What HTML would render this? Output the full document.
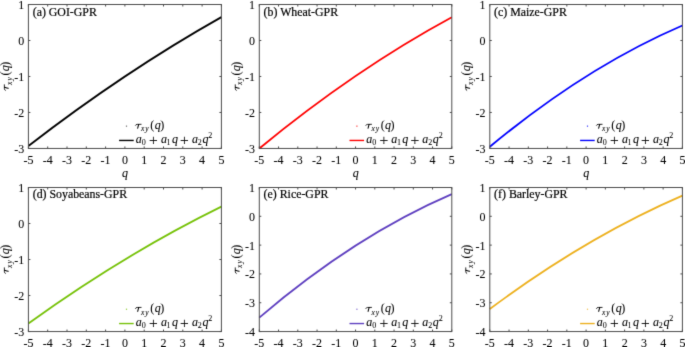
<!DOCTYPE html>
<html><head><meta charset="utf-8"><style>
html,body{margin:0;padding:0;background:#fff;width:685px;height:347px;overflow:hidden}
svg{display:block;will-change:transform}
text{font-family:"Liberation Serif",serif;fill:#000;stroke:#000;stroke-width:0.2px}
.t{font-size:12px;stroke-width:0.05px}
.tt{font-size:11.85px}
.gi{font-style:italic;stroke-width:0.08px}
.gr{stroke-width:0.05px}
</style></head><body>
<svg width="685" height="347" viewBox="0 0 685 347">
<defs><filter id="bl" color-interpolation-filters="sRGB" x="0" y="0" width="685" height="347" filterUnits="userSpaceOnUse"><feConvolveMatrix order="3" kernelMatrix="0.0113 0.0838 0.0113 0.0838 0.6193 0.0838 0.0113 0.0838 0.0113" edgeMode="duplicate"/></filter></defs>
<g filter="url(#bl)"><rect width="685" height="347" fill="#fff"/>
<g><path d="M28.4 145.93 Q124.9 71.44 221.4 17.1" fill="none" stroke="#000000" stroke-width="1.8"/><rect x="28.4" y="4.5" width="193" height="143.95" fill="none" stroke="#4d4d4d" stroke-width="1"/><path d="M28.4 148.45v-2M28.4 4.5v2M47.7 148.45v-2M47.7 4.5v2M67 148.45v-2M67 4.5v2M86.3 148.45v-2M86.3 4.5v2M105.6 148.45v-2M105.6 4.5v2M124.9 148.45v-2M124.9 4.5v2M144.2 148.45v-2M144.2 4.5v2M163.5 148.45v-2M163.5 4.5v2M182.8 148.45v-2M182.8 4.5v2M202.1 148.45v-2M202.1 4.5v2M221.4 148.45v-2M221.4 4.5v2M28.4 148.45h2M221.4 148.45h-2M28.4 112.46h2M221.4 112.46h-2M28.4 76.47h2M221.4 76.47h-2M28.4 40.49h2M221.4 40.49h-2M28.4 4.5h2M221.4 4.5h-2" stroke="#4d4d4d" stroke-width="1" fill="none"/><text transform="translate(28.4 163.95) scale(1 1.08)" text-anchor="middle" class="t">-5</text><text transform="translate(47.7 163.95) scale(1 1.08)" text-anchor="middle" class="t">-4</text><text transform="translate(67 163.95) scale(1 1.08)" text-anchor="middle" class="t">-3</text><text transform="translate(86.3 163.95) scale(1 1.08)" text-anchor="middle" class="t">-2</text><text transform="translate(105.6 163.95) scale(1 1.08)" text-anchor="middle" class="t">-1</text><text transform="translate(124.9 163.95) scale(1 1.08)" text-anchor="middle" class="t">0</text><text transform="translate(144.2 163.95) scale(1 1.08)" text-anchor="middle" class="t">1</text><text transform="translate(163.5 163.95) scale(1 1.08)" text-anchor="middle" class="t">2</text><text transform="translate(182.8 163.95) scale(1 1.08)" text-anchor="middle" class="t">3</text><text transform="translate(202.1 163.95) scale(1 1.08)" text-anchor="middle" class="t">4</text><text transform="translate(221.4 163.95) scale(1 1.08)" text-anchor="middle" class="t">5</text><text transform="translate(24.2 152.95) scale(1 1.08)" text-anchor="end" class="t">-3</text><text transform="translate(24.2 116.96) scale(1 1.08)" text-anchor="end" class="t">-2</text><text transform="translate(24.2 80.97) scale(1 1.08)" text-anchor="end" class="t">-1</text><text transform="translate(24.2 44.99) scale(1 1.08)" text-anchor="end" class="t">0</text><text transform="translate(24.2 9) scale(1 1.08)" text-anchor="end" class="t">1</text><text x="32.7" y="15.7" class="tt">(a) GOI-GPR</text><text class="gi" x="122.1" y="176.65" font-size="12">q</text><g transform="translate(8.8 90.67) rotate(-90)"><path d="M0.1 -3.1C0.5 -3.9 1.0 -4.35 2.0 -4.4L6.3 -4.45" fill="none" stroke="#000" stroke-width="0.85"/><path d="M3.5 -4.3C3.1 -2.9 2.7 -1.5 2.5 -0.5" fill="none" stroke="#000" stroke-width="1.05" stroke-linecap="round"/><text class="gi" x="5.79" y="2.7" font-size="7.5">x</text><text class="gi" x="10.12" y="2.7" font-size="7.5">y</text><text class="gr" x="15.17" y="0" font-size="12">(</text><text class="gi" x="19.5" y="0" font-size="12">q</text><text class="gr" x="25.02" y="0" font-size="12">)</text></g><rect x="125.9" y="125.55" width="1.2" height="1.2" fill="#444444" opacity="0.8"/><g transform="translate(135.2 128.75)"><path d="M0.1 -3.1C0.5 -3.9 1.0 -4.35 2.0 -4.4L6.3 -4.45" fill="none" stroke="#000" stroke-width="0.85"/><path d="M3.5 -4.3C3.1 -2.9 2.7 -1.5 2.5 -0.5" fill="none" stroke="#000" stroke-width="1.05" stroke-linecap="round"/><text class="gi" x="5.79" y="2.7" font-size="7.5">x</text><text class="gi" x="10.12" y="2.7" font-size="7.5">y</text><text class="gr" x="15.17" y="0" font-size="12">(</text><text class="gi" x="19.5" y="0" font-size="12">q</text><text class="gr" x="25.02" y="0" font-size="12">)</text></g><path d="M119.1 140.45H133.7" stroke="#000000" stroke-width="1.4"/><g transform="translate(135.9 143.15)"><text class="gi" x="-0.06" y="0" font-size="12">a</text><text class="gr" x="5.9" y="2.2" font-size="8">0</text><text class="gr" x="13.22" y="1.8" font-size="15.5">+</text><text class="gi" x="25.04" y="0" font-size="12">a</text><text class="gr" x="30.6" y="2.2" font-size="8">1</text><text class="gi" x="36" y="0" font-size="12">q</text><text class="gr" x="44.12" y="1.8" font-size="15.5">+</text><text class="gi" x="56.04" y="0" font-size="12">a</text><text class="gr" x="61.95" y="2.2" font-size="8">2</text><text class="gi" x="66.5" y="0" font-size="12">q</text><text class="gr" x="72.45" y="-5.1" font-size="8">2</text></g></g>
<g><path d="M259.3 148.45 Q355.55 69.35 451.8 17.31" fill="none" stroke="#ff0000" stroke-width="1.8"/><rect x="259.3" y="4.5" width="192.5" height="143.95" fill="none" stroke="#4d4d4d" stroke-width="1"/><path d="M259.3 148.45v-2M259.3 4.5v2M278.55 148.45v-2M278.55 4.5v2M297.8 148.45v-2M297.8 4.5v2M317.05 148.45v-2M317.05 4.5v2M336.3 148.45v-2M336.3 4.5v2M355.55 148.45v-2M355.55 4.5v2M374.8 148.45v-2M374.8 4.5v2M394.05 148.45v-2M394.05 4.5v2M413.3 148.45v-2M413.3 4.5v2M432.55 148.45v-2M432.55 4.5v2M451.8 148.45v-2M451.8 4.5v2M259.3 148.45h2M451.8 148.45h-2M259.3 112.46h2M451.8 112.46h-2M259.3 76.47h2M451.8 76.47h-2M259.3 40.49h2M451.8 40.49h-2M259.3 4.5h2M451.8 4.5h-2" stroke="#4d4d4d" stroke-width="1" fill="none"/><text transform="translate(259.3 163.95) scale(1 1.08)" text-anchor="middle" class="t">-5</text><text transform="translate(278.55 163.95) scale(1 1.08)" text-anchor="middle" class="t">-4</text><text transform="translate(297.8 163.95) scale(1 1.08)" text-anchor="middle" class="t">-3</text><text transform="translate(317.05 163.95) scale(1 1.08)" text-anchor="middle" class="t">-2</text><text transform="translate(336.3 163.95) scale(1 1.08)" text-anchor="middle" class="t">-1</text><text transform="translate(355.55 163.95) scale(1 1.08)" text-anchor="middle" class="t">0</text><text transform="translate(374.8 163.95) scale(1 1.08)" text-anchor="middle" class="t">1</text><text transform="translate(394.05 163.95) scale(1 1.08)" text-anchor="middle" class="t">2</text><text transform="translate(413.3 163.95) scale(1 1.08)" text-anchor="middle" class="t">3</text><text transform="translate(432.55 163.95) scale(1 1.08)" text-anchor="middle" class="t">4</text><text transform="translate(451.8 163.95) scale(1 1.08)" text-anchor="middle" class="t">5</text><text transform="translate(255.1 152.95) scale(1 1.08)" text-anchor="end" class="t">-3</text><text transform="translate(255.1 116.96) scale(1 1.08)" text-anchor="end" class="t">-2</text><text transform="translate(255.1 80.97) scale(1 1.08)" text-anchor="end" class="t">-1</text><text transform="translate(255.1 44.99) scale(1 1.08)" text-anchor="end" class="t">0</text><text transform="translate(255.1 9) scale(1 1.08)" text-anchor="end" class="t">1</text><text x="263.6" y="15.7" class="tt">(b) Wheat-GPR</text><text class="gi" x="352.75" y="176.65" font-size="12">q</text><g transform="translate(239.7 90.67) rotate(-90)"><path d="M0.1 -3.1C0.5 -3.9 1.0 -4.35 2.0 -4.4L6.3 -4.45" fill="none" stroke="#000" stroke-width="0.85"/><path d="M3.5 -4.3C3.1 -2.9 2.7 -1.5 2.5 -0.5" fill="none" stroke="#000" stroke-width="1.05" stroke-linecap="round"/><text class="gi" x="5.79" y="2.7" font-size="7.5">x</text><text class="gi" x="10.12" y="2.7" font-size="7.5">y</text><text class="gr" x="15.17" y="0" font-size="12">(</text><text class="gi" x="19.5" y="0" font-size="12">q</text><text class="gr" x="25.02" y="0" font-size="12">)</text></g><rect x="356.3" y="125.55" width="1.2" height="1.2" fill="#ff0000" opacity="0.8"/><g transform="translate(365.6 128.75)"><path d="M0.1 -3.1C0.5 -3.9 1.0 -4.35 2.0 -4.4L6.3 -4.45" fill="none" stroke="#000" stroke-width="0.85"/><path d="M3.5 -4.3C3.1 -2.9 2.7 -1.5 2.5 -0.5" fill="none" stroke="#000" stroke-width="1.05" stroke-linecap="round"/><text class="gi" x="5.79" y="2.7" font-size="7.5">x</text><text class="gi" x="10.12" y="2.7" font-size="7.5">y</text><text class="gr" x="15.17" y="0" font-size="12">(</text><text class="gi" x="19.5" y="0" font-size="12">q</text><text class="gr" x="25.02" y="0" font-size="12">)</text></g><path d="M349.5 140.45H364.1" stroke="#ff0000" stroke-width="1.4"/><g transform="translate(366.3 143.15)"><text class="gi" x="-0.06" y="0" font-size="12">a</text><text class="gr" x="5.9" y="2.2" font-size="8">0</text><text class="gr" x="13.22" y="1.8" font-size="15.5">+</text><text class="gi" x="25.04" y="0" font-size="12">a</text><text class="gr" x="30.6" y="2.2" font-size="8">1</text><text class="gi" x="36" y="0" font-size="12">q</text><text class="gr" x="44.12" y="1.8" font-size="15.5">+</text><text class="gi" x="56.04" y="0" font-size="12">a</text><text class="gr" x="61.95" y="2.2" font-size="8">2</text><text class="gi" x="66.5" y="0" font-size="12">q</text><text class="gr" x="72.45" y="-5.1" font-size="8">2</text></g></g>
<g><path d="M489.8 146.76 Q586.1 66.83 682.4 25.48" fill="none" stroke="#0000ff" stroke-width="1.8"/><rect x="489.8" y="4.5" width="192.6" height="143.95" fill="none" stroke="#4d4d4d" stroke-width="1"/><path d="M489.8 148.45v-2M489.8 4.5v2M509.06 148.45v-2M509.06 4.5v2M528.32 148.45v-2M528.32 4.5v2M547.58 148.45v-2M547.58 4.5v2M566.84 148.45v-2M566.84 4.5v2M586.1 148.45v-2M586.1 4.5v2M605.36 148.45v-2M605.36 4.5v2M624.62 148.45v-2M624.62 4.5v2M643.88 148.45v-2M643.88 4.5v2M663.14 148.45v-2M663.14 4.5v2M682.4 148.45v-2M682.4 4.5v2M489.8 148.45h2M682.4 148.45h-2M489.8 112.46h2M682.4 112.46h-2M489.8 76.47h2M682.4 76.47h-2M489.8 40.49h2M682.4 40.49h-2M489.8 4.5h2M682.4 4.5h-2" stroke="#4d4d4d" stroke-width="1" fill="none"/><text transform="translate(489.8 163.95) scale(1 1.08)" text-anchor="middle" class="t">-5</text><text transform="translate(509.06 163.95) scale(1 1.08)" text-anchor="middle" class="t">-4</text><text transform="translate(528.32 163.95) scale(1 1.08)" text-anchor="middle" class="t">-3</text><text transform="translate(547.58 163.95) scale(1 1.08)" text-anchor="middle" class="t">-2</text><text transform="translate(566.84 163.95) scale(1 1.08)" text-anchor="middle" class="t">-1</text><text transform="translate(586.1 163.95) scale(1 1.08)" text-anchor="middle" class="t">0</text><text transform="translate(605.36 163.95) scale(1 1.08)" text-anchor="middle" class="t">1</text><text transform="translate(624.62 163.95) scale(1 1.08)" text-anchor="middle" class="t">2</text><text transform="translate(643.88 163.95) scale(1 1.08)" text-anchor="middle" class="t">3</text><text transform="translate(663.14 163.95) scale(1 1.08)" text-anchor="middle" class="t">4</text><text transform="translate(682.4 163.95) scale(1 1.08)" text-anchor="middle" class="t">5</text><text transform="translate(485.6 152.95) scale(1 1.08)" text-anchor="end" class="t">-3</text><text transform="translate(485.6 116.96) scale(1 1.08)" text-anchor="end" class="t">-2</text><text transform="translate(485.6 80.97) scale(1 1.08)" text-anchor="end" class="t">-1</text><text transform="translate(485.6 44.99) scale(1 1.08)" text-anchor="end" class="t">0</text><text transform="translate(485.6 9) scale(1 1.08)" text-anchor="end" class="t">1</text><text x="494.1" y="15.7" class="tt">(c) Maize-GPR</text><text class="gi" x="583.3" y="176.65" font-size="12">q</text><g transform="translate(470.2 90.67) rotate(-90)"><path d="M0.1 -3.1C0.5 -3.9 1.0 -4.35 2.0 -4.4L6.3 -4.45" fill="none" stroke="#000" stroke-width="0.85"/><path d="M3.5 -4.3C3.1 -2.9 2.7 -1.5 2.5 -0.5" fill="none" stroke="#000" stroke-width="1.05" stroke-linecap="round"/><text class="gi" x="5.79" y="2.7" font-size="7.5">x</text><text class="gi" x="10.12" y="2.7" font-size="7.5">y</text><text class="gr" x="15.17" y="0" font-size="12">(</text><text class="gi" x="19.5" y="0" font-size="12">q</text><text class="gr" x="25.02" y="0" font-size="12">)</text></g><rect x="586.9" y="125.55" width="1.2" height="1.2" fill="#0000ff" opacity="0.8"/><g transform="translate(596.2 128.75)"><path d="M0.1 -3.1C0.5 -3.9 1.0 -4.35 2.0 -4.4L6.3 -4.45" fill="none" stroke="#000" stroke-width="0.85"/><path d="M3.5 -4.3C3.1 -2.9 2.7 -1.5 2.5 -0.5" fill="none" stroke="#000" stroke-width="1.05" stroke-linecap="round"/><text class="gi" x="5.79" y="2.7" font-size="7.5">x</text><text class="gi" x="10.12" y="2.7" font-size="7.5">y</text><text class="gr" x="15.17" y="0" font-size="12">(</text><text class="gi" x="19.5" y="0" font-size="12">q</text><text class="gr" x="25.02" y="0" font-size="12">)</text></g><path d="M580.1 140.45H594.7" stroke="#0000ff" stroke-width="1.4"/><g transform="translate(596.9 143.15)"><text class="gi" x="-0.06" y="0" font-size="12">a</text><text class="gr" x="5.9" y="2.2" font-size="8">0</text><text class="gr" x="13.22" y="1.8" font-size="15.5">+</text><text class="gi" x="25.04" y="0" font-size="12">a</text><text class="gr" x="30.6" y="2.2" font-size="8">1</text><text class="gi" x="36" y="0" font-size="12">q</text><text class="gr" x="44.12" y="1.8" font-size="15.5">+</text><text class="gi" x="56.04" y="0" font-size="12">a</text><text class="gr" x="61.95" y="2.2" font-size="8">2</text><text class="gi" x="66.5" y="0" font-size="12">q</text><text class="gr" x="72.45" y="-5.1" font-size="8">2</text></g></g>
<g><path d="M28.4 323.45 Q124.9 254 221.4 206.66" fill="none" stroke="#77c20a" stroke-width="1.8"/><rect x="28.4" y="187.5" width="193" height="144.05" fill="none" stroke="#4d4d4d" stroke-width="1"/><path d="M28.4 331.55v-2M28.4 187.5v2M47.7 331.55v-2M47.7 187.5v2M67 331.55v-2M67 187.5v2M86.3 331.55v-2M86.3 187.5v2M105.6 331.55v-2M105.6 187.5v2M124.9 331.55v-2M124.9 187.5v2M144.2 331.55v-2M144.2 187.5v2M163.5 331.55v-2M163.5 187.5v2M182.8 331.55v-2M182.8 187.5v2M202.1 331.55v-2M202.1 187.5v2M221.4 331.55v-2M221.4 187.5v2M28.4 331.55h2M221.4 331.55h-2M28.4 295.54h2M221.4 295.54h-2M28.4 259.52h2M221.4 259.52h-2M28.4 223.51h2M221.4 223.51h-2M28.4 187.5h2M221.4 187.5h-2" stroke="#4d4d4d" stroke-width="1" fill="none"/><text transform="translate(28.4 347.05) scale(1 1.08)" text-anchor="middle" class="t">-5</text><text transform="translate(47.7 347.05) scale(1 1.08)" text-anchor="middle" class="t">-4</text><text transform="translate(67 347.05) scale(1 1.08)" text-anchor="middle" class="t">-3</text><text transform="translate(86.3 347.05) scale(1 1.08)" text-anchor="middle" class="t">-2</text><text transform="translate(105.6 347.05) scale(1 1.08)" text-anchor="middle" class="t">-1</text><text transform="translate(124.9 347.05) scale(1 1.08)" text-anchor="middle" class="t">0</text><text transform="translate(144.2 347.05) scale(1 1.08)" text-anchor="middle" class="t">1</text><text transform="translate(163.5 347.05) scale(1 1.08)" text-anchor="middle" class="t">2</text><text transform="translate(182.8 347.05) scale(1 1.08)" text-anchor="middle" class="t">3</text><text transform="translate(202.1 347.05) scale(1 1.08)" text-anchor="middle" class="t">4</text><text transform="translate(221.4 347.05) scale(1 1.08)" text-anchor="middle" class="t">5</text><text transform="translate(24.2 336.05) scale(1 1.08)" text-anchor="end" class="t">-3</text><text transform="translate(24.2 300.04) scale(1 1.08)" text-anchor="end" class="t">-2</text><text transform="translate(24.2 264.02) scale(1 1.08)" text-anchor="end" class="t">-1</text><text transform="translate(24.2 228.01) scale(1 1.08)" text-anchor="end" class="t">0</text><text transform="translate(24.2 192) scale(1 1.08)" text-anchor="end" class="t">1</text><text x="32.7" y="198.2" class="tt">(d) Soyabeans-GPR</text><g transform="translate(8.8 273.72) rotate(-90)"><path d="M0.1 -3.1C0.5 -3.9 1.0 -4.35 2.0 -4.4L6.3 -4.45" fill="none" stroke="#000" stroke-width="0.85"/><path d="M3.5 -4.3C3.1 -2.9 2.7 -1.5 2.5 -0.5" fill="none" stroke="#000" stroke-width="1.05" stroke-linecap="round"/><text class="gi" x="5.79" y="2.7" font-size="7.5">x</text><text class="gi" x="10.12" y="2.7" font-size="7.5">y</text><text class="gr" x="15.17" y="0" font-size="12">(</text><text class="gi" x="19.5" y="0" font-size="12">q</text><text class="gr" x="25.02" y="0" font-size="12">)</text></g><rect x="125.9" y="308.65" width="1.2" height="1.2" fill="#77c20a" opacity="0.8"/><g transform="translate(135.2 311.85)"><path d="M0.1 -3.1C0.5 -3.9 1.0 -4.35 2.0 -4.4L6.3 -4.45" fill="none" stroke="#000" stroke-width="0.85"/><path d="M3.5 -4.3C3.1 -2.9 2.7 -1.5 2.5 -0.5" fill="none" stroke="#000" stroke-width="1.05" stroke-linecap="round"/><text class="gi" x="5.79" y="2.7" font-size="7.5">x</text><text class="gi" x="10.12" y="2.7" font-size="7.5">y</text><text class="gr" x="15.17" y="0" font-size="12">(</text><text class="gi" x="19.5" y="0" font-size="12">q</text><text class="gr" x="25.02" y="0" font-size="12">)</text></g><path d="M119.1 323.55H133.7" stroke="#77c20a" stroke-width="1.4"/><g transform="translate(135.9 326.25)"><text class="gi" x="-0.06" y="0" font-size="12">a</text><text class="gr" x="5.9" y="2.2" font-size="8">0</text><text class="gr" x="13.22" y="1.8" font-size="15.5">+</text><text class="gi" x="25.04" y="0" font-size="12">a</text><text class="gr" x="30.6" y="2.2" font-size="8">1</text><text class="gi" x="36" y="0" font-size="12">q</text><text class="gr" x="44.12" y="1.8" font-size="15.5">+</text><text class="gi" x="56.04" y="0" font-size="12">a</text><text class="gr" x="61.95" y="2.2" font-size="8">2</text><text class="gi" x="66.5" y="0" font-size="12">q</text><text class="gr" x="72.45" y="-5.1" font-size="8">2</text></g></g>
<g><path d="M259.3 317.58 Q355.55 235.51 451.8 194.18" fill="none" stroke="#5f40c0" stroke-width="1.8"/><rect x="259.3" y="187.5" width="192.5" height="144.05" fill="none" stroke="#4d4d4d" stroke-width="1"/><path d="M259.3 331.55v-2M259.3 187.5v2M278.55 331.55v-2M278.55 187.5v2M297.8 331.55v-2M297.8 187.5v2M317.05 331.55v-2M317.05 187.5v2M336.3 331.55v-2M336.3 187.5v2M355.55 331.55v-2M355.55 187.5v2M374.8 331.55v-2M374.8 187.5v2M394.05 331.55v-2M394.05 187.5v2M413.3 331.55v-2M413.3 187.5v2M432.55 331.55v-2M432.55 187.5v2M451.8 331.55v-2M451.8 187.5v2M259.3 331.55h2M451.8 331.55h-2M259.3 302.74h2M451.8 302.74h-2M259.3 273.93h2M451.8 273.93h-2M259.3 245.12h2M451.8 245.12h-2M259.3 216.31h2M451.8 216.31h-2M259.3 187.5h2M451.8 187.5h-2" stroke="#4d4d4d" stroke-width="1" fill="none"/><text transform="translate(259.3 347.05) scale(1 1.08)" text-anchor="middle" class="t">-5</text><text transform="translate(278.55 347.05) scale(1 1.08)" text-anchor="middle" class="t">-4</text><text transform="translate(297.8 347.05) scale(1 1.08)" text-anchor="middle" class="t">-3</text><text transform="translate(317.05 347.05) scale(1 1.08)" text-anchor="middle" class="t">-2</text><text transform="translate(336.3 347.05) scale(1 1.08)" text-anchor="middle" class="t">-1</text><text transform="translate(355.55 347.05) scale(1 1.08)" text-anchor="middle" class="t">0</text><text transform="translate(374.8 347.05) scale(1 1.08)" text-anchor="middle" class="t">1</text><text transform="translate(394.05 347.05) scale(1 1.08)" text-anchor="middle" class="t">2</text><text transform="translate(413.3 347.05) scale(1 1.08)" text-anchor="middle" class="t">3</text><text transform="translate(432.55 347.05) scale(1 1.08)" text-anchor="middle" class="t">4</text><text transform="translate(451.8 347.05) scale(1 1.08)" text-anchor="middle" class="t">5</text><text transform="translate(255.1 336.05) scale(1 1.08)" text-anchor="end" class="t">-4</text><text transform="translate(255.1 307.24) scale(1 1.08)" text-anchor="end" class="t">-3</text><text transform="translate(255.1 278.43) scale(1 1.08)" text-anchor="end" class="t">-2</text><text transform="translate(255.1 249.62) scale(1 1.08)" text-anchor="end" class="t">-1</text><text transform="translate(255.1 220.81) scale(1 1.08)" text-anchor="end" class="t">0</text><text transform="translate(255.1 192) scale(1 1.08)" text-anchor="end" class="t">1</text><text x="263.6" y="198.2" class="tt">(e) Rice-GPR</text><g transform="translate(239.7 273.72) rotate(-90)"><path d="M0.1 -3.1C0.5 -3.9 1.0 -4.35 2.0 -4.4L6.3 -4.45" fill="none" stroke="#000" stroke-width="0.85"/><path d="M3.5 -4.3C3.1 -2.9 2.7 -1.5 2.5 -0.5" fill="none" stroke="#000" stroke-width="1.05" stroke-linecap="round"/><text class="gi" x="5.79" y="2.7" font-size="7.5">x</text><text class="gi" x="10.12" y="2.7" font-size="7.5">y</text><text class="gr" x="15.17" y="0" font-size="12">(</text><text class="gi" x="19.5" y="0" font-size="12">q</text><text class="gr" x="25.02" y="0" font-size="12">)</text></g><rect x="356.3" y="308.65" width="1.2" height="1.2" fill="#5f40c0" opacity="0.8"/><g transform="translate(365.6 311.85)"><path d="M0.1 -3.1C0.5 -3.9 1.0 -4.35 2.0 -4.4L6.3 -4.45" fill="none" stroke="#000" stroke-width="0.85"/><path d="M3.5 -4.3C3.1 -2.9 2.7 -1.5 2.5 -0.5" fill="none" stroke="#000" stroke-width="1.05" stroke-linecap="round"/><text class="gi" x="5.79" y="2.7" font-size="7.5">x</text><text class="gi" x="10.12" y="2.7" font-size="7.5">y</text><text class="gr" x="15.17" y="0" font-size="12">(</text><text class="gi" x="19.5" y="0" font-size="12">q</text><text class="gr" x="25.02" y="0" font-size="12">)</text></g><path d="M349.5 323.55H364.1" stroke="#5f40c0" stroke-width="1.4"/><g transform="translate(366.3 326.25)"><text class="gi" x="-0.06" y="0" font-size="12">a</text><text class="gr" x="5.9" y="2.2" font-size="8">0</text><text class="gr" x="13.22" y="1.8" font-size="15.5">+</text><text class="gi" x="25.04" y="0" font-size="12">a</text><text class="gr" x="30.6" y="2.2" font-size="8">1</text><text class="gi" x="36" y="0" font-size="12">q</text><text class="gr" x="44.12" y="1.8" font-size="15.5">+</text><text class="gi" x="56.04" y="0" font-size="12">a</text><text class="gr" x="61.95" y="2.2" font-size="8">2</text><text class="gi" x="66.5" y="0" font-size="12">q</text><text class="gr" x="72.45" y="-5.1" font-size="8">2</text></g></g>
<g><path d="M489.8 309.02 Q586.1 237.31 682.4 195.68" fill="none" stroke="#edb120" stroke-width="1.8"/><rect x="489.8" y="187.5" width="192.6" height="144.05" fill="none" stroke="#4d4d4d" stroke-width="1"/><path d="M489.8 331.55v-2M489.8 187.5v2M509.06 331.55v-2M509.06 187.5v2M528.32 331.55v-2M528.32 187.5v2M547.58 331.55v-2M547.58 187.5v2M566.84 331.55v-2M566.84 187.5v2M586.1 331.55v-2M586.1 187.5v2M605.36 331.55v-2M605.36 187.5v2M624.62 331.55v-2M624.62 187.5v2M643.88 331.55v-2M643.88 187.5v2M663.14 331.55v-2M663.14 187.5v2M682.4 331.55v-2M682.4 187.5v2M489.8 331.55h2M682.4 331.55h-2M489.8 302.74h2M682.4 302.74h-2M489.8 273.93h2M682.4 273.93h-2M489.8 245.12h2M682.4 245.12h-2M489.8 216.31h2M682.4 216.31h-2M489.8 187.5h2M682.4 187.5h-2" stroke="#4d4d4d" stroke-width="1" fill="none"/><text transform="translate(489.8 347.05) scale(1 1.08)" text-anchor="middle" class="t">-5</text><text transform="translate(509.06 347.05) scale(1 1.08)" text-anchor="middle" class="t">-4</text><text transform="translate(528.32 347.05) scale(1 1.08)" text-anchor="middle" class="t">-3</text><text transform="translate(547.58 347.05) scale(1 1.08)" text-anchor="middle" class="t">-2</text><text transform="translate(566.84 347.05) scale(1 1.08)" text-anchor="middle" class="t">-1</text><text transform="translate(586.1 347.05) scale(1 1.08)" text-anchor="middle" class="t">0</text><text transform="translate(605.36 347.05) scale(1 1.08)" text-anchor="middle" class="t">1</text><text transform="translate(624.62 347.05) scale(1 1.08)" text-anchor="middle" class="t">2</text><text transform="translate(643.88 347.05) scale(1 1.08)" text-anchor="middle" class="t">3</text><text transform="translate(663.14 347.05) scale(1 1.08)" text-anchor="middle" class="t">4</text><text transform="translate(682.4 347.05) scale(1 1.08)" text-anchor="middle" class="t">5</text><text transform="translate(485.6 336.05) scale(1 1.08)" text-anchor="end" class="t">-4</text><text transform="translate(485.6 307.24) scale(1 1.08)" text-anchor="end" class="t">-3</text><text transform="translate(485.6 278.43) scale(1 1.08)" text-anchor="end" class="t">-2</text><text transform="translate(485.6 249.62) scale(1 1.08)" text-anchor="end" class="t">-1</text><text transform="translate(485.6 220.81) scale(1 1.08)" text-anchor="end" class="t">0</text><text transform="translate(485.6 192) scale(1 1.08)" text-anchor="end" class="t">1</text><text x="494.1" y="198.2" class="tt">(f) Barley-GPR</text><g transform="translate(470.2 273.72) rotate(-90)"><path d="M0.1 -3.1C0.5 -3.9 1.0 -4.35 2.0 -4.4L6.3 -4.45" fill="none" stroke="#000" stroke-width="0.85"/><path d="M3.5 -4.3C3.1 -2.9 2.7 -1.5 2.5 -0.5" fill="none" stroke="#000" stroke-width="1.05" stroke-linecap="round"/><text class="gi" x="5.79" y="2.7" font-size="7.5">x</text><text class="gi" x="10.12" y="2.7" font-size="7.5">y</text><text class="gr" x="15.17" y="0" font-size="12">(</text><text class="gi" x="19.5" y="0" font-size="12">q</text><text class="gr" x="25.02" y="0" font-size="12">)</text></g><rect x="586.9" y="308.65" width="1.2" height="1.2" fill="#edb120" opacity="0.8"/><g transform="translate(596.2 311.85)"><path d="M0.1 -3.1C0.5 -3.9 1.0 -4.35 2.0 -4.4L6.3 -4.45" fill="none" stroke="#000" stroke-width="0.85"/><path d="M3.5 -4.3C3.1 -2.9 2.7 -1.5 2.5 -0.5" fill="none" stroke="#000" stroke-width="1.05" stroke-linecap="round"/><text class="gi" x="5.79" y="2.7" font-size="7.5">x</text><text class="gi" x="10.12" y="2.7" font-size="7.5">y</text><text class="gr" x="15.17" y="0" font-size="12">(</text><text class="gi" x="19.5" y="0" font-size="12">q</text><text class="gr" x="25.02" y="0" font-size="12">)</text></g><path d="M580.1 323.55H594.7" stroke="#edb120" stroke-width="1.4"/><g transform="translate(596.9 326.25)"><text class="gi" x="-0.06" y="0" font-size="12">a</text><text class="gr" x="5.9" y="2.2" font-size="8">0</text><text class="gr" x="13.22" y="1.8" font-size="15.5">+</text><text class="gi" x="25.04" y="0" font-size="12">a</text><text class="gr" x="30.6" y="2.2" font-size="8">1</text><text class="gi" x="36" y="0" font-size="12">q</text><text class="gr" x="44.12" y="1.8" font-size="15.5">+</text><text class="gi" x="56.04" y="0" font-size="12">a</text><text class="gr" x="61.95" y="2.2" font-size="8">2</text><text class="gi" x="66.5" y="0" font-size="12">q</text><text class="gr" x="72.45" y="-5.1" font-size="8">2</text></g></g>
</g></svg>
</body></html>
